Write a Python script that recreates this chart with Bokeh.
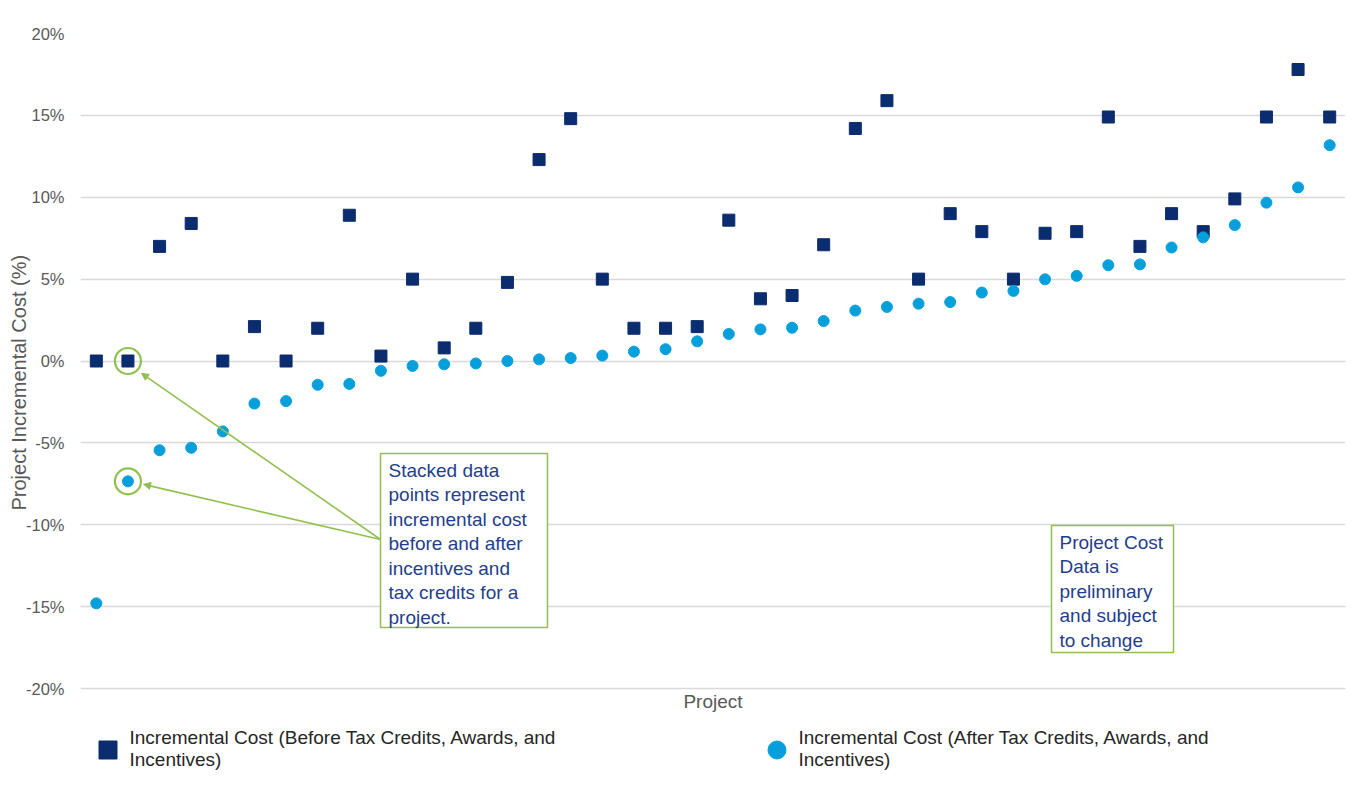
from bokeh.plotting import figure
from bokeh.models import (Range1d, FixedTicker, Label, BoxAnnotation, Arrow,
                          NormalHead, Legend, LegendItem, Title)
from bokeh.embed import file_html
from bokeh.resources import INLINE

# ---------------- data ----------------
projects = list(range(1, 41))
before = [0, 0, 7.0, 8.4, 0, 2.1, 0, 2.0, 8.9, 0.3,
          5.0, 0.8, 2.0, 4.8, 12.3, 14.8, 5.0, 2.0, 2.0, 2.1,
          8.6, 3.8, 4.0, 7.1, 14.2, 15.9, 5.0, 9.0, 7.9, 5.0,
          7.8, 7.9, 14.9, 7.0, 9.0, 7.9, 9.9, 14.9, 17.8, 14.9]
after = [-14.8, -7.35, -5.45, -5.3, -4.3, -2.6, -2.45, -1.45, -1.4, -0.6,
         -0.3, -0.2, -0.15, 0.0, 0.1, 0.18, 0.33, 0.57, 0.72, 1.2,
         1.65, 1.93, 2.03, 2.44, 3.08, 3.3, 3.5, 3.6, 4.18, 4.28,
         4.99, 5.2, 5.85, 5.9, 6.93, 7.55, 8.3, 9.67, 10.6, 13.18]
y_ticks = [-20, -15, -10, -5, 0, 5, 10, 15, 20]
y_tick_labels = ["-20%", "-15%", "-10%", "-5%", "0%", "5%", "10%", "15%", "20%"]
series_names = ["Incremental Cost (Before Tax Credits, Awards, and\nIncentives)",
                "Incremental Cost (After Tax Credits, Awards, and\nIncentives)"]
x_title = "Project"
y_title = "Project  Incremental Cost (%)"
note1 = "Stacked data\npoints represent\nincremental cost\nbefore and after\nincentives and\ntax credits for a\nproject."
note2 = "Project Cost\nData is\npreliminary\nand subject\nto change"
highlight_idx = 1

# ---------------- style ----------------
NAVY = "#0B2C6E"
CYAN = "#05A0DC"
GREEN = "#92C050"
NOTE_BLUE = "#1F3E8C"
GREY = "#595959"
FONT = "Liberation Sans"

W, H = 1352, 798
# plotting area of the value axis (the -20%..20% band) in page pixels
FL, FR, FT, GB = 80, 1345, 33, 688
FB = 797   # frame is extended below the band so the legend fits inside it
X0, X1 = 0.5, 40.5
Y1 = 20
XS = (FR - FL) / (X1 - X0)
YS = (GB - FT) / 40.0
Y0 = Y1 - (FB - FT) / YS


def dx(px):
    return X0 + (px - FL) / XS


def dy(py):
    return Y1 - (py - FT) / YS


p = figure(width=W, height=H, x_range=Range1d(X0, X1), y_range=Range1d(Y0, Y1),
           output_backend="svg", toolbar_location=None,
           min_border_left=FL, min_border_right=W - FR, min_border_top=FT,
           min_border_bottom=H - FB)
p.outline_line_color = None
p.background_fill_color = "white"
p.border_fill_color = "white"

# axes
p.yaxis.ticker = FixedTicker(ticks=y_ticks)
p.yaxis.major_label_overrides = {t: l for t, l in zip(y_ticks, y_tick_labels)}
p.yaxis.axis_line_color = None
p.yaxis.major_tick_line_color = None
p.yaxis.minor_tick_line_color = None
p.yaxis.major_tick_out = 0
p.yaxis.major_label_standoff = 16
p.yaxis.major_label_text_font = FONT
p.yaxis.major_label_text_font_size = "16.5px"
p.yaxis.major_label_text_color = GREY
p.xaxis.visible = False

p.xgrid.grid_line_color = None
p.ygrid.grid_line_color = "#D9D9D9"
p.ygrid.grid_line_width = 1.5

# y axis title
p.add_layout(Title(text=y_title, align="left", offset=FB - 510,
                   standoff=-15, text_font=FONT, text_font_size="20px",
                   text_font_style="normal", text_color=GREY), "left")
# x axis title
p.add_layout(Label(x=(X0 + X1) / 2, y=dy(701), text=x_title, text_align="center",
                   text_baseline="middle", text_font=FONT, text_font_size="19px",
                   text_color=GREY))

# data
r_b = p.scatter(projects, before, marker="square", size=12, color=NAVY)
r_a = p.scatter(projects, after, marker="circle", size=11, color=CYAN)

# highlight rings
p.scatter([projects[highlight_idx]] * 2, [before[highlight_idx], after[highlight_idx]],
          marker="circle", size=26, fill_color=None, line_color=GREEN, line_width=2.2)

# note boxes
p.add_layout(BoxAnnotation(left=dx(380), right=dx(547), top=dy(453), bottom=dy(627),
                           fill_color="white", fill_alpha=1, line_color=GREEN,
                           line_alpha=1, line_width=1.5, level="annotation"))
p.add_layout(Label(x=dx(388), y=dy(459), text=note1, text_align="left",
                   text_baseline="top", text_font=FONT, text_font_size="19px",
                   text_color=NOTE_BLUE, text_line_height=1.17))
p.add_layout(BoxAnnotation(left=dx(1051), right=dx(1173), top=dy(525), bottom=dy(652),
                           fill_color="white", fill_alpha=1, line_color=GREEN,
                           line_alpha=1, line_width=1.5, level="annotation"))
p.add_layout(Label(x=dx(1059), y=dy(531), text=note2, text_align="left",
                   text_baseline="top", text_font=FONT, text_font_size="19px",
                   text_color=NOTE_BLUE, text_line_height=1.17))

# arrows
hx = projects[highlight_idx]
for (tx, ty) in [(hx + 13.6 / XS, before[highlight_idx] - 12.3 / YS),
                 (hx + 15.6 / XS, after[highlight_idx] - 3 / YS)]:
    p.add_layout(Arrow(x_start=dx(380), y_start=dy(539), x_end=tx, y_end=ty,
                       line_color=GREEN, line_width=1.6,
                       end=NormalHead(size=7, fill_color=GREEN, line_color=GREEN)))

# legends (one per series, placed under the value band)
for r, name, gx, std in [(r_b, series_names[0], 107, -6), (r_a, series_names[1], 776, -3)]:
    leg = Legend(items=[LegendItem(label=name, renderers=[r])],
                 location=(gx - 22.5 - FL, FB - 771.5),
                 glyph_width=45, glyph_height=45,
                 label_standoff=std, padding=0, margin=0, spacing=0,
                 border_line_color=None, background_fill_alpha=0,
                 label_text_font=FONT, label_text_font_size="19px",
                 label_text_color="#262626", label_text_line_height=1.16)
    p.add_layout(leg)

open("out.html", "w").write(file_html(p, INLINE))
